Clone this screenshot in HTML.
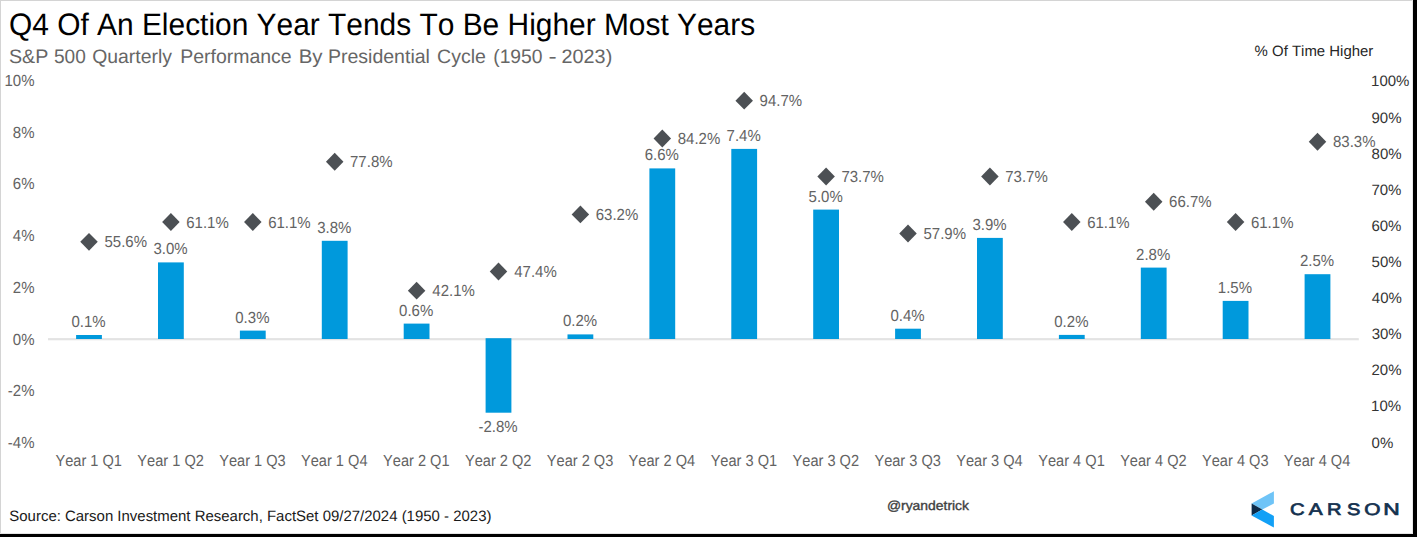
<!DOCTYPE html>
<html><head><meta charset="utf-8"><style>
html,body{margin:0;padding:0;background:#000;}
body{width:1417px;height:537px;overflow:hidden;position:relative;}
svg{position:absolute;left:0;top:0;}
text{font-family:"Liberation Sans",sans-serif;font-kerning:none;text-rendering:geometricPrecision;}
</style></head><body>
<svg width="1417" height="537" viewBox="0 0 1417 537">
<rect x="0" y="0" width="1413" height="534" fill="#ffffff"/>
<rect x="0" y="0" width="1413" height="1" fill="#d4d4d4"/>
<rect x="0" y="0" width="1" height="534" fill="#d4d4d4"/>
<rect x="0" y="533" width="1413" height="1" fill="#e4e4e4"/>
<rect x="1412" y="0" width="1" height="534" fill="#e8e8e8"/>

<text transform="translate(8.98,34.70) scale(0.9645,1.0000)" font-size="31" fill="#000">Q4 Of An Election Year Tends To Be Higher Most Years</text>
<text transform="translate(9.01,63.00) scale(1.0079,1.0000)" font-size="19.5" fill="#666666">S&amp;P</text>
<text transform="translate(53.94,63.00) scale(0.9777,1.0000)" font-size="19.5" fill="#666666">500</text>
<text transform="translate(92.18,63.00) scale(0.9946,1.0000)" font-size="19.5" fill="#666666">Quarterly</text>
<text transform="translate(180.20,63.00) scale(0.9976,1.0000)" font-size="19.5" fill="#666666">Performance</text>
<text transform="translate(298.63,63.00) scale(1.0465,1.0000)" font-size="19.5" fill="#666666">By</text>
<text transform="translate(327.90,63.00) scale(1.0012,1.0000)" font-size="19.5" fill="#666666">Presidential</text>
<text transform="translate(437.11,63.00) scale(1.0021,1.0000)" font-size="19.5" fill="#666666">Cycle</text>
<text transform="translate(493.20,63.00) scale(0.9895,1.0000)" font-size="19.5" fill="#666666">(1950</text>
<text transform="translate(548.61,63.00) scale(1.2603,1.0000)" font-size="19.5" fill="#666666">-</text>
<text transform="translate(561.60,63.00) scale(1.0150,1.0000)" font-size="19.5" fill="#666666">2023)</text>
<text transform="translate(1254.57,55.80) scale(0.9965,1.0000)" font-size="15" fill="#262626">% Of Time Higher</text>
<rect x="48" y="338.1" width="1310.8" height="2.2" fill="#e3e3e3"/>
<text transform="translate(4.51,86.00) scale(1.0000,1.0700)" font-size="15" fill="#636363">10%</text>
<text transform="translate(12.85,137.74) scale(1.0000,1.0700)" font-size="15" fill="#636363">8%</text>
<text transform="translate(12.85,189.48) scale(1.0000,1.0700)" font-size="15" fill="#636363">6%</text>
<text transform="translate(12.85,241.22) scale(1.0000,1.0700)" font-size="15" fill="#636363">4%</text>
<text transform="translate(12.85,292.96) scale(1.0000,1.0700)" font-size="15" fill="#636363">2%</text>
<text transform="translate(12.85,344.70) scale(1.0000,1.0700)" font-size="15" fill="#636363">0%</text>
<text transform="translate(7.86,396.44) scale(1.0000,1.0700)" font-size="15" fill="#636363">-2%</text>
<text transform="translate(7.86,448.18) scale(1.0000,1.0700)" font-size="15" fill="#636363">-4%</text>
<rect x="76.10" y="335.00" width="25.8" height="4.00" fill="#0099dc"/>
<text transform="translate(71.48,327.00) scale(1.0000,1.0700)" font-size="15" fill="#636363">0.1%</text>
<rect x="158.00" y="262.40" width="25.8" height="76.60" fill="#0099dc"/>
<text transform="translate(153.39,254.40) scale(1.0000,1.0700)" font-size="15" fill="#636363">3.0%</text>
<rect x="239.90" y="330.60" width="25.8" height="8.40" fill="#0099dc"/>
<text transform="translate(235.28,322.60) scale(1.0000,1.0700)" font-size="15" fill="#636363">0.3%</text>
<rect x="321.80" y="240.80" width="25.8" height="98.20" fill="#0099dc"/>
<text transform="translate(317.19,232.80) scale(1.0000,1.0700)" font-size="15" fill="#636363">3.8%</text>
<rect x="403.70" y="323.60" width="25.8" height="15.40" fill="#0099dc"/>
<text transform="translate(399.08,315.60) scale(1.0000,1.0700)" font-size="15" fill="#636363">0.6%</text>
<rect x="485.60" y="338.2" width="25.8" height="74.50" fill="#0099dc"/>
<text transform="translate(478.44,432.40) scale(1.0000,1.0700)" font-size="15" fill="#636363">-2.8%</text>
<rect x="567.50" y="334.40" width="25.8" height="4.60" fill="#0099dc"/>
<text transform="translate(562.88,326.40) scale(1.0000,1.0700)" font-size="15" fill="#636363">0.2%</text>
<rect x="649.40" y="168.40" width="25.8" height="170.60" fill="#0099dc"/>
<text transform="translate(644.69,160.40) scale(1.0000,1.0700)" font-size="15" fill="#636363">6.6%</text>
<rect x="731.30" y="148.90" width="25.8" height="190.10" fill="#0099dc"/>
<text transform="translate(726.59,140.90) scale(1.0000,1.0700)" font-size="15" fill="#636363">7.4%</text>
<rect x="813.20" y="209.60" width="25.8" height="129.40" fill="#0099dc"/>
<text transform="translate(808.57,201.60) scale(1.0000,1.0700)" font-size="15" fill="#636363">5.0%</text>
<rect x="895.10" y="328.70" width="25.8" height="10.30" fill="#0099dc"/>
<text transform="translate(890.48,320.70) scale(1.0000,1.0700)" font-size="15" fill="#636363">0.4%</text>
<rect x="977.00" y="237.90" width="25.8" height="101.10" fill="#0099dc"/>
<text transform="translate(972.39,229.90) scale(1.0000,1.0700)" font-size="15" fill="#636363">3.9%</text>
<rect x="1058.90" y="334.90" width="25.8" height="4.10" fill="#0099dc"/>
<text transform="translate(1054.28,326.90) scale(1.0000,1.0700)" font-size="15" fill="#636363">0.2%</text>
<rect x="1140.80" y="267.60" width="25.8" height="71.40" fill="#0099dc"/>
<text transform="translate(1136.10,259.60) scale(1.0000,1.0700)" font-size="15" fill="#636363">2.8%</text>
<rect x="1222.70" y="300.90" width="25.8" height="38.10" fill="#0099dc"/>
<text transform="translate(1217.80,292.90) scale(1.0000,1.0700)" font-size="15" fill="#636363">1.5%</text>
<rect x="1304.60" y="274.20" width="25.8" height="64.80" fill="#0099dc"/>
<text transform="translate(1299.90,266.20) scale(1.0000,1.0700)" font-size="15" fill="#636363">2.5%</text>
<path d="M89.00 232.92L97.75 241.87L89.00 250.82L80.25 241.87Z" fill="#4c5054"/>
<text transform="translate(104.50,247.47) scale(1.0000,1.0700)" font-size="15" fill="#636363">55.6%</text>
<path d="M170.90 213.06L179.65 222.01L170.90 230.96L162.15 222.01Z" fill="#4c5054"/>
<text transform="translate(186.24,227.61) scale(1.0000,1.0700)" font-size="15" fill="#636363">61.1%</text>
<path d="M252.80 213.06L261.55 222.01L252.80 230.96L244.05 222.01Z" fill="#4c5054"/>
<text transform="translate(268.14,227.61) scale(1.0000,1.0700)" font-size="15" fill="#636363">61.1%</text>
<path d="M334.70 152.74L343.45 161.69L334.70 170.64L325.95 161.69Z" fill="#4c5054"/>
<text transform="translate(350.03,167.29) scale(1.0000,1.0700)" font-size="15" fill="#636363">77.8%</text>
<path d="M416.60 281.68L425.35 290.63L416.60 299.58L407.85 290.63Z" fill="#4c5054"/>
<text transform="translate(432.36,296.23) scale(1.0000,1.0700)" font-size="15" fill="#636363">42.1%</text>
<path d="M498.50 262.54L507.25 271.49L498.50 280.44L489.75 271.49Z" fill="#4c5054"/>
<text transform="translate(514.26,277.09) scale(1.0000,1.0700)" font-size="15" fill="#636363">47.4%</text>
<path d="M580.40 205.47L589.15 214.42L580.40 223.37L571.65 214.42Z" fill="#4c5054"/>
<text transform="translate(595.74,220.02) scale(1.0000,1.0700)" font-size="15" fill="#636363">63.2%</text>
<path d="M662.30 129.62L671.05 138.57L662.30 147.52L653.55 138.57Z" fill="#4c5054"/>
<text transform="translate(677.75,144.17) scale(1.0000,1.0700)" font-size="15" fill="#636363">84.2%</text>
<path d="M744.20 91.69L752.95 100.64L744.20 109.59L735.45 100.64Z" fill="#4c5054"/>
<text transform="translate(759.60,106.24) scale(1.0000,1.0700)" font-size="15" fill="#636363">94.7%</text>
<path d="M826.10 167.55L834.85 176.50L826.10 185.45L817.35 176.50Z" fill="#4c5054"/>
<text transform="translate(841.43,182.10) scale(1.0000,1.0700)" font-size="15" fill="#636363">73.7%</text>
<path d="M908.00 224.62L916.75 233.57L908.00 242.52L899.25 233.57Z" fill="#4c5054"/>
<text transform="translate(923.50,239.17) scale(1.0000,1.0700)" font-size="15" fill="#636363">57.9%</text>
<path d="M989.90 167.55L998.65 176.50L989.90 185.45L981.15 176.50Z" fill="#4c5054"/>
<text transform="translate(1005.23,182.10) scale(1.0000,1.0700)" font-size="15" fill="#636363">73.7%</text>
<path d="M1071.80 213.06L1080.55 222.01L1071.80 230.96L1063.05 222.01Z" fill="#4c5054"/>
<text transform="translate(1087.14,227.61) scale(1.0000,1.0700)" font-size="15" fill="#636363">61.1%</text>
<path d="M1153.70 192.83L1162.45 201.78L1153.70 210.73L1144.95 201.78Z" fill="#4c5054"/>
<text transform="translate(1169.04,207.38) scale(1.0000,1.0700)" font-size="15" fill="#636363">66.7%</text>
<path d="M1235.60 213.06L1244.35 222.01L1235.60 230.96L1226.85 222.01Z" fill="#4c5054"/>
<text transform="translate(1250.94,227.61) scale(1.0000,1.0700)" font-size="15" fill="#636363">61.1%</text>
<path d="M1317.50 132.87L1326.25 141.82L1317.50 150.77L1308.75 141.82Z" fill="#4c5054"/>
<text transform="translate(1332.95,147.42) scale(1.0000,1.0700)" font-size="15" fill="#636363">83.3%</text>
<text transform="translate(1371.61,447.60) scale(1.0000,1.0000)" font-size="15" fill="#333333">0%</text>
<text transform="translate(1371.06,411.48) scale(1.0000,1.0000)" font-size="15" fill="#333333">10%</text>
<text transform="translate(1371.45,375.36) scale(1.0000,1.0000)" font-size="15" fill="#333333">20%</text>
<text transform="translate(1371.63,339.24) scale(1.0000,1.0000)" font-size="15" fill="#333333">30%</text>
<text transform="translate(1371.86,303.12) scale(1.0000,1.0000)" font-size="15" fill="#333333">40%</text>
<text transform="translate(1371.60,267.00) scale(1.0000,1.0000)" font-size="15" fill="#333333">50%</text>
<text transform="translate(1371.44,230.88) scale(1.0000,1.0000)" font-size="15" fill="#333333">60%</text>
<text transform="translate(1371.43,194.76) scale(1.0000,1.0000)" font-size="15" fill="#333333">70%</text>
<rect x="1371" y="146.84" width="32" height="13" fill="#fff"/>
<text transform="translate(1371.55,158.64) scale(1.0000,1.0000)" font-size="15" fill="#333333">80%</text>
<text transform="translate(1371.50,122.52) scale(1.0000,1.0000)" font-size="15" fill="#333333">90%</text>
<text transform="translate(1371.06,86.40) scale(1.0000,1.0000)" font-size="15" fill="#333333">100%</text>
<text transform="translate(55.43,466.00) scale(0.9730,1.0700)" font-size="15" fill="#636363">Year 1 Q1</text>
<text transform="translate(137.34,466.00) scale(0.9730,1.0700)" font-size="15" fill="#636363">Year 1 Q2</text>
<text transform="translate(219.20,466.00) scale(0.9730,1.0700)" font-size="15" fill="#636363">Year 1 Q3</text>
<text transform="translate(300.99,466.00) scale(0.9730,1.0700)" font-size="15" fill="#636363">Year 1 Q4</text>
<text transform="translate(383.03,466.00) scale(0.9730,1.0700)" font-size="15" fill="#636363">Year 2 Q1</text>
<text transform="translate(464.94,466.00) scale(0.9730,1.0700)" font-size="15" fill="#636363">Year 2 Q2</text>
<text transform="translate(546.80,466.00) scale(0.9730,1.0700)" font-size="15" fill="#636363">Year 2 Q3</text>
<text transform="translate(628.59,466.00) scale(0.9730,1.0700)" font-size="15" fill="#636363">Year 2 Q4</text>
<text transform="translate(710.63,466.00) scale(0.9730,1.0700)" font-size="15" fill="#636363">Year 3 Q1</text>
<text transform="translate(792.54,466.00) scale(0.9730,1.0700)" font-size="15" fill="#636363">Year 3 Q2</text>
<text transform="translate(874.40,466.00) scale(0.9730,1.0700)" font-size="15" fill="#636363">Year 3 Q3</text>
<text transform="translate(956.19,466.00) scale(0.9730,1.0700)" font-size="15" fill="#636363">Year 3 Q4</text>
<text transform="translate(1038.23,466.00) scale(0.9730,1.0700)" font-size="15" fill="#636363">Year 4 Q1</text>
<text transform="translate(1120.14,466.00) scale(0.9730,1.0700)" font-size="15" fill="#636363">Year 4 Q2</text>
<text transform="translate(1202.00,466.00) scale(0.9730,1.0700)" font-size="15" fill="#636363">Year 4 Q3</text>
<text transform="translate(1283.79,466.00) scale(0.9730,1.0700)" font-size="15" fill="#636363">Year 4 Q4</text>
<text transform="translate(9.32,520.60) scale(0.9969,1.0000)" font-size="15" fill="#1a1a1a">Source: Carson Investment Research, FactSet 09/27/2024 (1950 - 2023)</text>
<text transform="translate(886.89,510.20) scale(1.0545,1.0000)" font-size="13.2" fill="#404040" stroke="#404040" stroke-width="0.35">@ryandetrick</text>
<g transform="translate(0.4,0.2)">
<path d="M1251.2 503.2 L1273.5 491.1 L1273.5 503.2 L1261.9 509.2 Z" fill="#6fc4f7"/>
<path d="M1251.2 503.2 L1261.9 509.2 L1251.2 515.3 Z" fill="#0c2b4a"/>
<path d="M1251.2 515.3 L1261.9 509.2 L1273.5 515.8 L1273.5 527.4 Z" fill="#12a0f6"/>
</g>
<text transform="translate(1289.99,515.00) scale(1.2082,1.0000)" font-size="16.8" fill="#14314f" stroke="#14314f" stroke-width="0.7">C</text>
<text transform="translate(1308.79,515.00) scale(1.2416,1.0000)" font-size="16.8" fill="#14314f" stroke="#14314f" stroke-width="0.7">A</text>
<text transform="translate(1326.97,515.00) scale(1.1991,1.0000)" font-size="16.8" fill="#14314f" stroke="#14314f" stroke-width="0.7">R</text>
<text transform="translate(1346.91,515.00) scale(1.1956,1.0000)" font-size="16.8" fill="#14314f" stroke="#14314f" stroke-width="0.7">S</text>
<text transform="translate(1364.35,515.00) scale(1.2410,1.0000)" font-size="16.8" fill="#14314f" stroke="#14314f" stroke-width="0.7">O</text>
<text transform="translate(1383.20,515.00) scale(1.3585,1.0000)" font-size="16.8" fill="#14314f" stroke="#14314f" stroke-width="0.7">N</text>
</svg></body></html>
